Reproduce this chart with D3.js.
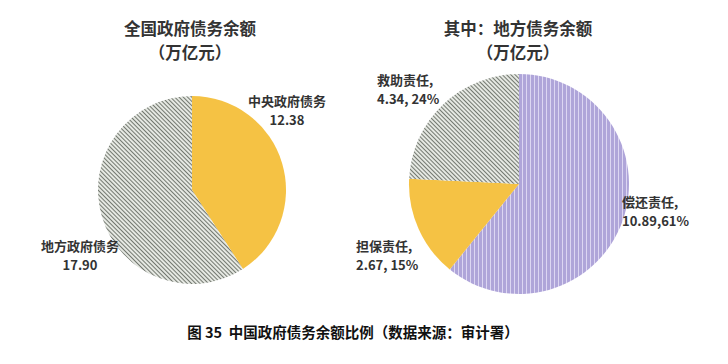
<!DOCTYPE html>
<html>
<head>
<meta charset="utf-8">
<script src="https://cdn.jsdelivr.net/npm/d3@7"></script>
<style>
    body { margin: 0; background: #fff; }
    svg text { font-family: "Noto Sans CJK SC", "Noto Sans", sans-serif; }
</style>
</head>
<body>
<div id="chart"></div>
<script>
// Data
var totalNames = ['中央政府债务', '地方政府债务'];
var totalValues = [12.38, 17.90];
var localNames = ['偿还责任', '担保责任', '救助责任'];
var localValues = [10.89, 2.67, 4.34];

var width = 728,
    height = 364;

var svg = d3.select('#chart').append('svg').attr('width', width).attr('height', height);

// Patterns
var defs = svg.append('defs');
var hatch = defs
    .append('pattern')
    .attr('id', 'hatch')
    .attr('patternUnits', 'userSpaceOnUse')
    .attr('width', 3)
    .attr('height', 3)
    .attr('patternTransform', 'rotate(45)');
hatch.append('rect').attr('width', 3).attr('height', 3).attr('fill', '#e5e8e2');
hatch.append('rect').attr('width', 3).attr('height', 1).attr('fill', '#737870');

var vlines = defs
    .append('pattern')
    .attr('id', 'vlines')
    .attr('patternUnits', 'userSpaceOnUse')
    .attr('width', 4)
    .attr('height', 4);
vlines.append('rect').attr('width', 4).attr('height', 4).attr('fill', '#afa5d9');
vlines.append('rect').attr('x', 3).attr('width', 1).attr('height', 4).attr('fill', '#dcd6f2');

var fills1 = ['#f5c244', 'url(#hatch)'];
var fills2 = ['url(#vlines)', '#f5c244', 'url(#hatch)'];

var pie = d3.pie().sort(null);

function drawPie(cx, cy, r, values, fills) {
    var g = svg.append('g').attr('transform', 'translate(' + cx + ',' + cy + ')');
    var arc = d3.arc().innerRadius(0).outerRadius(r);
    g.selectAll('path')
        .data(pie(values))
        .enter()
        .append('path')
        .attr('d', arc)
        .attr('fill', function (d, i) {
            return fills[i];
        });
    return g;
}

// Two-line text helper (one text element per line)
function label(x, y, lines, size, anchor, gap) {
    lines.forEach(function (s, i) {
        svg.append('text')
            .attr('x', x)
            .attr('y', y + i * gap)
            .attr('text-anchor', anchor || 'middle')
            .attr('font-size', size)
            .attr('font-weight', 'bold')
            .attr('fill', '#333')
            .text(s);
    });
}

/*
 * LEFT PIE
 */
drawPie(192, 190, 94, totalValues, fills1);
label(190, 35, ['全国政府债务余额', '（万亿元）'], 16.5, 'middle', 24);
var fmt2 = d3.format('.2f');
label(287, 106, [totalNames[0], fmt2(totalValues[0])], 13, 'middle', 19);
label(80, 251, [totalNames[1], fmt2(totalValues[1])], 13, 'middle', 19);

/*
 * RIGHT PIE
 */
drawPie(519, 184, 110, localValues, fills2);
label(518, 35, ['其中：地方债务余额', '（万亿元）'], 16.5, 'middle', 24);
var localSum = d3.sum(localValues);
var pct = d3.format('.0%');
function localText(i, sep) {
    return fmt2(localValues[i]) + sep + pct(localValues[i] / localSum);
}
label(622, 207, [localNames[0] + ',', localText(0, ',')], 13, 'start', 19);
label(356, 251, [localNames[1] + ',', localText(1, ', ')], 13, 'start', 19);
label(377, 85, [localNames[2] + ',', localText(2, ', ')], 13, 'start', 19);

// Caption
svg.append('text')
    .attr('x', 353)
    .attr('y', 338)
    .attr('text-anchor', 'middle')
    .attr('font-size', 14.5)
    .attr('font-weight', 'bold')
    .attr('fill', '#111')
    .attr('xml:space', 'preserve')
    .text('图 35  中国政府债务余额比例（数据来源：审计署）');
</script>
</body>
</html>
